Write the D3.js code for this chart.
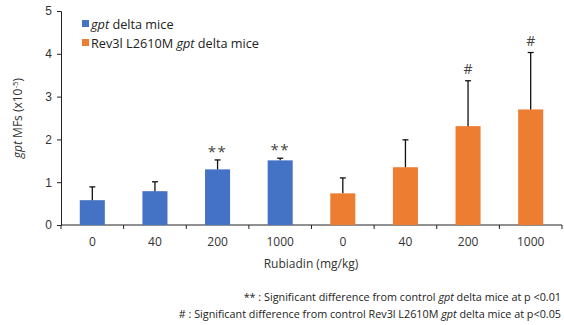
<!DOCTYPE html>
<html>
<head>
<meta charset="utf-8">
<script src="https://cdn.jsdelivr.net/npm/d3@7"></script>
<style>
  body { margin: 0; background: #fff; }
  svg { font-family: "Open Sans", "Noto Sans", sans-serif; }
</style>
</head>
<body>
<svg id="chart" width="564" height="325"></svg>
<script>
// data
var doses   = ["0", "40", "200", "1000", "0", "40", "200", "1000"];
var groups  = ["wt", "wt", "wt", "wt", "rev", "rev", "rev", "rev"];
var means   = [0.58, 0.79, 1.30, 1.51, 0.74, 1.35, 2.31, 2.70];
var errs    = [0.31, 0.22, 0.22, 0.05, 0.36, 0.64, 1.06, 1.33];
var marks   = ["", "", "**", "**", "", "", "#", "#"];
var yTicks  = [0, 1, 2, 3, 4, 5];

var colors = { wt: "#4472C4", rev: "#ED7D31" };

var svg = d3.select("#chart");
var m = { left: 61, right: 562, top: 11, bottom: 225 };

var x = d3.scaleBand()
    .domain(d3.range(doses.length))
    .range([m.left, m.right])
    .paddingInner(0.6)
    .paddingOuter(0.3);

var y = d3.scaleLinear().domain([0, 5]).range([m.bottom, m.top]);

// y axis
var yAxis = svg.append("g")
    .attr("transform", "translate(" + m.left + ",0)")
    .call(d3.axisLeft(y).tickValues(yTicks).tickSize(4).tickFormat(d3.format("d")));
yAxis.select(".domain").attr("stroke", "#222");
yAxis.selectAll(".tick line").attr("stroke", "#222");
yAxis.selectAll(".tick text").attr("font-size", 12).attr("fill", "#333").attr("x", -9);

// x axis line + tick marks at band edges
svg.append("line")
    .attr("x1", m.left).attr("x2", m.right)
    .attr("y1", m.bottom).attr("y2", m.bottom)
    .attr("stroke", "#222");
svg.selectAll(".xt")
  .data(d3.range(doses.length + 1))
  .enter().append("line")
    .attr("x1", function(i) { return m.left + i * (m.right - m.left) / doses.length; })
    .attr("x2", function(i) { return m.left + i * (m.right - m.left) / doses.length; })
    .attr("y1", m.bottom).attr("y2", m.bottom + 4)
    .attr("stroke", "#222");

svg.selectAll(".xl")
  .data(doses)
  .enter().append("text")
    .attr("x", function(d, i) { return x(i) + x.bandwidth() / 2; })
    .attr("y", 246)
    .attr("text-anchor", "middle")
    .attr("font-size", 12)
    .attr("fill", "#333")
    .text(function(d) { return d; });

// bars
svg.selectAll(".bar")
  .data(means)
  .enter().append("rect")
    .attr("x", function(d, i) { return x(i); })
    .attr("width", x.bandwidth())
    .attr("y", function(d) { return y(d); })
    .attr("height", function(d) { return m.bottom - y(d); })
    .attr("fill", function(d, i) { return colors[groups[i]]; });

// error bars (upper only)
var eb = svg.selectAll(".err")
  .data(means)
  .enter().append("g")
    .attr("stroke", "#111")
    .attr("stroke-width", 1.3);
eb.append("line")
    .attr("x1", function(d, i) { return x(i) + x.bandwidth() / 2; })
    .attr("x2", function(d, i) { return x(i) + x.bandwidth() / 2; })
    .attr("y1", function(d) { return y(d); })
    .attr("y2", function(d, i) { return y(d + errs[i]); });
eb.append("line")
    .attr("x1", function(d, i) { return x(i) + x.bandwidth() / 2 - 3; })
    .attr("x2", function(d, i) { return x(i) + x.bandwidth() / 2 + 3; })
    .attr("y1", function(d, i) { return y(d + errs[i]); })
    .attr("y2", function(d, i) { return y(d + errs[i]); });

// significance marks
svg.selectAll(".sig")
  .data(marks)
  .enter().append("text")
    .attr("x", function(d, i) { return x(i) + x.bandwidth() / 2; })
    .attr("y", function(d, i) { return y(means[i] + errs[i]) - (d == "#" ? 7 : 3); })
    .attr("text-anchor", "middle")
    .attr("font-size", function(d) { return d == "#" ? 14 : 15; })
    .attr("letter-spacing", function(d) { return d == "#" ? null : 1.5; })
    .attr("fill", "#444")
    .text(function(d) { return d; });

// legend
var legend = [
  { key: "wt", parts: [["gpt", true], [" delta mice", false]] },
  { key: "rev", parts: [["Rev3l L2610M ", false], ["gpt", true], [" delta mice", false]] }
];
legend.forEach(function(l, i) {
  var ly = 29 + i * 19;
  svg.append("rect")
      .attr("x", 82).attr("y", ly - 9)
      .attr("width", 7).attr("height", 7)
      .attr("fill", colors[l.key]);
  var t = svg.append("text")
      .attr("x", 91).attr("y", ly)
      .attr("font-size", 12.7)
      .attr("fill", "#222");
  l.parts.forEach(function(p) {
    t.append("tspan").attr("font-style", p[1] ? "italic" : null).text(p[0]);
  });
});

// y axis title
var yt = svg.append("text")
    .attr("transform", "translate(22," + (m.bottom + m.top) / 2 + ") rotate(-90)")
    .attr("text-anchor", "middle")
    .attr("font-size", 12)
    .attr("fill", "#333");
yt.append("tspan").attr("font-style", "italic").text("gpt");
yt.append("tspan").text(" MFs (x10");
yt.append("tspan").attr("font-size", 8).attr("dy", -4).text("-5");
yt.append("tspan").attr("dy", 4).text(")");

// x axis title
svg.append("text")
    .attr("x", 311).attr("y", 268)
    .attr("text-anchor", "middle")
    .attr("font-size", 12)
    .attr("fill", "#333")
    .text("Rubiadin (mg/kg)");

// footnotes
var notes = [
  [["** :  Significant difference from control ", false], ["gpt", true], [" delta mice at p <0.01", false]],
  [["# : Significant difference from control Rev3l L2610M ", false], ["gpt", true], [" delta mice at p<0.05", false]]
];
notes.forEach(function(n, i) {
  var t = svg.append("text")
      .attr("x", 561).attr("y", 301 + i * 17)
      .attr("text-anchor", "end")
      .attr("font-size", 10.8)
      .attr("fill", "#222");
  n.forEach(function(p) {
    t.append("tspan").attr("font-style", p[1] ? "italic" : null).text(p[0]);
  });
});
</script>
</body>
</html>
